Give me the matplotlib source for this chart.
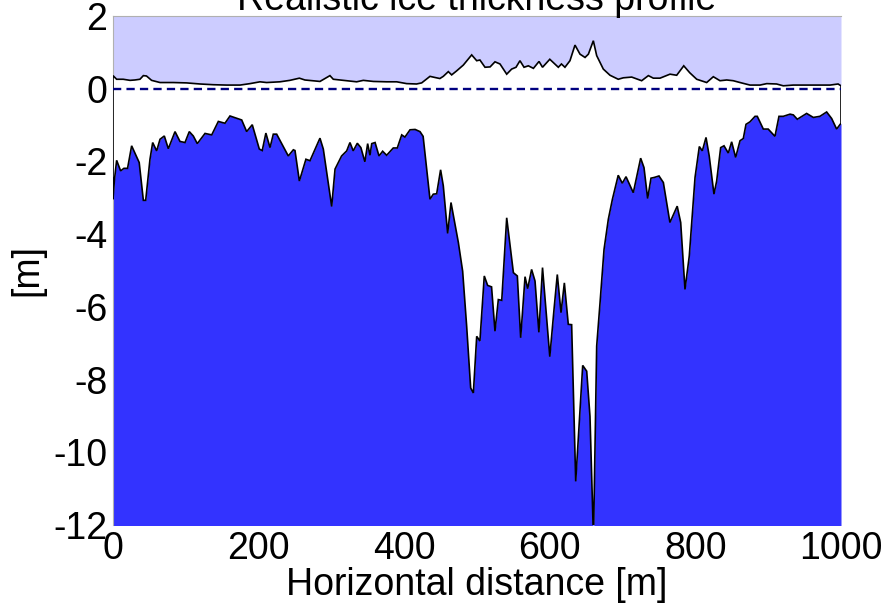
import numpy as np
import matplotlib
matplotlib.use("Agg")
import matplotlib.pyplot as plt

plt.rcParams['font.family'] = ['Liberation Sans', 'DejaVu Sans']
plt.rcParams['axes.unicode_minus'] = False

# ice top surface (freeboard) [m]
x_top = [0, 5, 14, 23.4, 30, 37, 41.7, 46, 53, 64.6, 82.8, 101, 119.5, 137.8, 156, 174.5,
         188.2, 201.9, 211, 229.4, 243, 256, 263.6, 284.3, 298, 302.6, 316.4, 334.7, 343.8,
         357.6, 375.9, 389.7, 403.4, 417, 424, 435.4, 442, 449, 453.7, 460.6, 465.2, 472,
         481.2, 492.7, 499.6, 504, 511, 518, 524.7, 531.6, 540.8, 547.6, 553.6, 559, 564.6,
         570.5, 577.5, 585.2, 590, 600, 611.7, 616, 620.8, 627.7, 634.6, 641.5, 648.4, 653,
         659.8, 664.4, 673.5, 682.7, 694, 701, 712.5, 726.2, 735.4, 742.2, 751.4, 765.1,
         774.3, 784, 792.2, 801.8, 815.5, 824.6, 833.8, 843, 852, 861.3, 875, 888.7, 898,
         911.5, 920.7, 934.4, 952.8, 971, 985, 996, 1000]
y_top = [0.36, 0.26, 0.26, 0.23, 0.24, 0.26, 0.36, 0.35, 0.23, 0.17, 0.17, 0.16, 0.13, 0.11,
         0.10, 0.10, 0.14, 0.19, 0.17, 0.19, 0.23, 0.29, 0.24, 0.20, 0.36, 0.26, 0.23, 0.19,
         0.23, 0.20, 0.19, 0.19, 0.14, 0.13, 0.16, 0.34, 0.31, 0.28, 0.34, 0.47, 0.38, 0.49,
         0.65, 0.93, 0.77, 0.79, 0.59, 0.60, 0.74, 0.68, 0.40, 0.54, 0.59, 0.77, 0.59, 0.63,
         0.56, 0.75, 0.59, 0.81, 0.59, 0.68, 0.59, 0.77, 1.20, 0.95, 0.86, 0.95, 1.32, 0.91,
         0.54, 0.37, 0.26, 0.30, 0.32, 0.22, 0.36, 0.29, 0.29, 0.40, 0.37, 0.63, 0.44, 0.26,
         0.17, 0.33, 0.22, 0.24, 0.22, 0.17, 0.10, 0.10, 0.14, 0.13, 0.08, 0.10, 0.10, 0.10,
         0.10, 0.13, 0.08]

# ice bottom surface (draft) [m]
x_bot = [0, 2, 5, 10.5, 15, 20, 25.6, 36, 41.7, 44.9, 50.8, 54.5, 60, 64.6, 70.5, 76, 85.2,
         92, 98.9, 104.8, 110.3, 115.8, 126.4, 135.6, 144.7, 153.8, 160.7, 176.8, 183.6,
         191.3, 201, 205, 210, 215.7, 220.2, 224.8, 240.8, 247.7, 250, 256, 265, 270.6,
         284.3, 288.9, 300.4, 305, 314, 321, 325.5, 330, 335.6, 340.5, 346, 349.8, 353,
         355.4, 360, 365.4, 370.4, 375.9, 385, 390.5, 396.6, 401, 408, 415, 421.7, 426,
         435.4, 440, 444.6, 450, 453.7, 459.7, 464.3, 474.4, 480.3, 485.8, 491.3, 495,
         499.6, 504, 510, 514.6, 520, 524.7, 529.3, 534, 540.8, 550, 555.4, 560, 566,
         569.6, 575, 579.7, 585, 590, 600, 605.8, 610.3, 615.4, 620, 625.4, 630, 635.6,
         645.2, 650.7, 655.2, 660, 664.4, 669, 674.5, 680.4, 686, 694, 699.6, 704.7, 714.7,
         724.8, 729.4, 734.4, 739, 743.6, 750, 756, 765, 775, 779.8, 785.7, 791.6, 799.5,
         805.4, 809.5, 814.6, 819, 825.5, 829.2, 834.7, 839.3, 845.2, 849.8, 855.3, 861.3,
         865.8, 869.5, 875, 881.9, 885, 893.3, 900, 909.3, 914.8, 920.7, 930, 934.5, 940,
         952.8, 962, 971, 980.3, 987.2, 994, 1000]
y_bot = [-3.04, -2.5, -1.97, -2.26, -2.19, -2.19, -1.57, -2.03, -3.07, -3.07, -1.94, -1.48,
         -1.71, -1.39, -1.30, -1.65, -1.18, -1.45, -1.48, -1.18, -1.30, -1.51, -1.23, -1.27,
         -0.90, -0.95, -0.75, -0.86, -1.18, -0.99, -1.66, -1.70, -1.22, -1.62, -1.25, -1.25,
         -1.85, -1.68, -1.70, -2.54, -1.94, -1.98, -1.36, -1.66, -3.24, -2.21, -1.85, -1.71,
         -1.48, -1.71, -1.50, -1.62, -2.01, -1.51, -1.83, -1.51, -1.48, -1.85, -1.72, -1.83,
         -1.63, -1.63, -1.27, -1.33, -1.13, -1.12, -1.18, -1.31, -3.04, -2.90, -2.89, -2.23,
         -2.67, -3.98, -3.13, -4.23, -5.02, -6.53, -8.23, -8.37, -6.81, -6.94, -5.15, -5.41,
         -5.45, -6.67, -5.80, -5.82, -3.55, -5.06, -5.15, -6.85, -5.17, -5.50, -4.97, -5.29,
         -6.70, -4.92, -7.37, -6.07, -5.11, -6.16, -5.34, -6.48, -6.49, -10.80, -7.61, -7.77,
         -9.01, -12.4, -7.08, -5.89, -4.42, -3.59, -3.04, -2.38, -2.60, -2.42, -2.86, -1.91,
         -2.17, -3.02, -2.46, -2.44, -2.40, -2.58, -3.68, -3.23, -3.68, -5.52, -4.60, -2.44,
         -1.59, -1.71, -1.34, -1.85, -2.90, -2.54, -1.62, -1.57, -1.77, -1.46, -1.89, -1.43,
         -1.37, -0.98, -0.91, -0.76, -0.76, -1.11, -1.11, -1.31, -0.76, -0.76, -0.70, -0.72,
         -0.84, -0.68, -0.79, -0.76, -0.64, -0.82, -1.11, -0.95]

fig = plt.figure(figsize=(8.95, 6.13), dpi=100)
ax = fig.add_axes([113/895, 1 - 525/613, 728/895, 509/613])

# air above, water below
ax.fill_between(x_top, y_top, 2, color='#ccccff', lw=0)
ax.fill_between(x_bot, -13, y_bot, color='#3333ff', lw=0)

# the ice itself
poly_x = list(x_top) + list(x_bot[::-1])
poly_y = list(y_top) + list(y_bot[::-1])
ax.fill(poly_x, poly_y, facecolor='white', edgecolor='black', lw=1.2, zorder=3)

# sea level
ax.axhline(0, color='#000080', ls=(0, (3.5, 2.2)), lw=1.7, zorder=4)

ax.set_xlim(0, 1000)
ax.set_ylim(-12, 2)
ax.set_xticks([0, 200, 400, 600, 800, 1000])
ax.set_yticks([2, 0, -2, -4, -6, -8, -10, -12])
ax.tick_params(length=0, labelsize=27, pad=4)
for s in ['right', 'bottom']:
    ax.spines[s].set_visible(False)
for s in ['left', 'top']:
    ax.spines[s].set_color('#b0b0b0')
    ax.spines[s].set_linewidth(0.8)

ax.set_xlabel('Horizontal distance [m]', fontsize=27, labelpad=0)
ax.set_ylabel('[m]', fontsize=27, labelpad=6)
fig.text(477/895, 1 - 10/613, 'Realistic ice thickness profile', fontsize=27,
         ha='center', va='baseline')

fig.savefig('out.png', dpi=100)
